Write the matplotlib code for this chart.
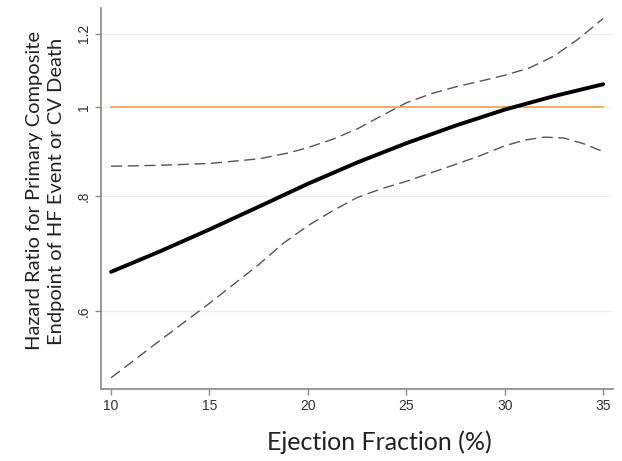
import matplotlib.pyplot as plt
from matplotlib.ticker import FixedLocator, NullLocator

# values (ejection fraction, hazard ratio)
ef_hr = [10, 12.5, 15, 17.5, 20, 22.5, 25, 27.5, 30, 32.5, 35]
hr = [0.662, 0.697, 0.736, 0.779, 0.825, 0.870, 0.913, 0.954, 0.993, 1.027, 1.058]

ef_upper = [10, 12.5, 15, 17.5, 19, 20, 21.25, 22.5, 23.75, 25, 26.25, 27.5, 28.75,
            30, 31.25, 32.5, 33.75, 35]
upper = [0.862, 0.864, 0.868, 0.878, 0.891, 0.903, 0.922, 0.946, 0.978, 1.010, 1.033,
         1.051, 1.066, 1.082, 1.102, 1.135, 1.185, 1.247]

ef_lower = [10, 12.5, 15, 17.5, 18.75, 20, 21.25, 22.5, 23.75, 25, 27.5, 28.75, 30,
            31, 32, 33, 34, 35]
lower = [0.508, 0.558, 0.612, 0.674, 0.711, 0.743, 0.771, 0.797, 0.815, 0.830, 0.866,
         0.885, 0.907, 0.920, 0.927, 0.925, 0.912, 0.894]

yticks = [0.6, 0.8, 1.0, 1.2]
ytick_labels = [".6", ".8", "1", "1.2"]
xticks = [10, 15, 20, 25, 30, 35]

fig = plt.figure(figsize=(6.22, 4.61), dpi=100)
ax = fig.add_axes([0.1624, 0.1562, 0.8231, 0.8264])
ax.set_yscale("log")

for v in yticks:
    ax.axhline(v, color="#ececec", lw=0.8, zorder=0)

ax.plot([ef_hr[0], ef_hr[-1]], [1, 1], color="#e9aa55", lw=1.3, zorder=1)

ax.plot(ef_upper, upper, color="#555555", lw=1.0, dashes=(8, 4), zorder=2)
ax.plot(ef_lower, lower, color="#555555", lw=1.0, dashes=(8, 4), zorder=2)
ax.plot(ef_hr, hr, color="black", lw=2.8, zorder=3, solid_capstyle="round",
        solid_joinstyle="round")

ax.set_xlim(9.49, 35.5)
ax.set_ylim(0.494, 1.28)

ax.yaxis.set_major_locator(FixedLocator(yticks))
ax.yaxis.set_minor_locator(NullLocator())
ax.set_yticklabels(ytick_labels, rotation=90, va="center", fontsize=10,
                   family="Liberation Sans", color="#333333")
ax.set_xticks(xticks)
ax.set_xticklabels([str(t) for t in xticks], fontsize=10,
                   family="Liberation Sans", color="#333333")

for s in ["top", "right"]:
    ax.spines[s].set_visible(False)
for s in ["left", "bottom"]:
    ax.spines[s].set_color("#888888")
    ax.spines[s].set_linewidth(1.2)
ax.tick_params(color="#888888", length=4, width=1)

ax.set_xlabel("Ejection Fraction (%)", fontsize=18, family="Lato",
              color="#222222")
ax.xaxis.set_label_coords(0.544, -0.108)
ax.set_ylabel("Hazard Ratio for Primary Composite\nEndpoint of HF Event or CV Death",
              fontsize=14.5, family="Lato", color="#222222", linespacing=1.4)
ax.yaxis.set_label_coords(-0.07, 0.52)

fig.savefig("out.png", dpi=100)
